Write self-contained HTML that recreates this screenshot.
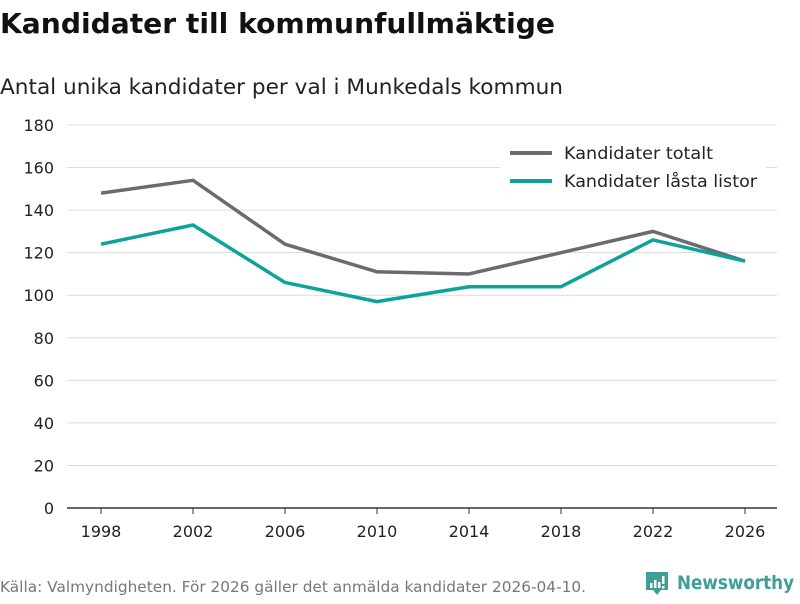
<!DOCTYPE html>
<html><head><meta charset="utf-8"><style>
body{margin:0;background:#fff;font-family:"DejaVu Sans","Liberation Sans",sans-serif;}
</style></head><body>
<svg id="c" width="800" height="600" xmlns="http://www.w3.org/2000/svg">
<text x="0" y="33" font-size="28" font-weight="bold" fill="#111" textLength="555" lengthAdjust="spacingAndGlyphs">Kandidater till kommunfullmäktige</text>
<text x="0" y="94" font-size="21.5" fill="#222" textLength="563" lengthAdjust="spacingAndGlyphs">Antal unika kandidater per val i Munkedals kommun</text>
<g id="grid"></g>
<g id="series"></g>
<g>
<rect x="500" y="138" width="266" height="58" fill="#fff"/>
<line x1="510" y1="153" x2="552" y2="153" stroke="#6b6a70" stroke-width="4"/>
<text x="564" y="159" font-size="17" fill="#222" textLength="149" lengthAdjust="spacingAndGlyphs">Kandidater totalt</text>
<line x1="510" y1="181" x2="552" y2="181" stroke="#0ea39a" stroke-width="4"/>
<text x="564" y="187" font-size="17" fill="#222" textLength="193" lengthAdjust="spacingAndGlyphs">Kandidater låsta listor</text>
</g>
<text x="0" y="592" font-size="15" fill="#777" textLength="586" lengthAdjust="spacingAndGlyphs">Källa: Valmyndigheten. För 2026 gäller det anmälda kandidater 2026-04-10.</text>
<g>
<path d="M646 572 h22 v18 h-7 l-4 5 l-4 -5 h-7 z" fill="#3f9e95"/>
<rect x="650" y="583" width="2.5" height="5" fill="#fff"/><rect x="654" y="580" width="2.5" height="8" fill="#fff"/><rect x="658" y="582" width="2.5" height="6" fill="#fff"/><rect x="662" y="576" width="2.5" height="8" fill="#fff"/><rect x="662" y="586" width="2.5" height="2.5" fill="#fff"/>
<text x="677" y="589" font-size="19" font-weight="bold" fill="#3f9e95" textLength="117" lengthAdjust="spacingAndGlyphs">Newsworthy</text>
</g>
</svg>
<script>
const years=[1998,2002,2006,2010,2014,2018,2022,2026];
const totalt=[148,154,124,111,110,120,130,116];
const lasta=[124,133,106,97,104,104,126,116];
const yTicks=[0,20,40,60,80,100,120,140,160,180];
const NS="http://www.w3.org/2000/svg";
const X=y=>101+(y-1998)/4*92;
const Y=v=>508-v*(383/180);
const grid=document.getElementById('grid'),ser=document.getElementById('series');
function mk(p,tag,a){const e=document.createElementNS(NS,tag);for(const k in a)e.setAttribute(k,a[k]);p.appendChild(e);return e;}
yTicks.forEach(t=>{
 if(t>0){const l=mk(grid,'line',{x1:67,x2:777,y1:Y(t),y2:Y(t),stroke:'#dcdcdc','stroke-width':1});
 
 }
 const tx=mk(grid,'text',{x:54,y:Y(t)+6,'text-anchor':'end','font-size':16,fill:'#222'});tx.textContent=t;
 
 
});
const ax=mk(grid,'line',{x1:67,x2:777,y1:508,y2:508,stroke:'#333','stroke-width':1.5});


years.forEach(yr=>{
 const tk=mk(grid,'line',{x1:X(yr),x2:X(yr),y1:508,y2:514,stroke:'#333'});
 
 
 const tx=mk(grid,'text',{x:X(yr),y:537,'text-anchor':'middle','font-size':16,fill:'#222'});tx.textContent=yr;
 
 
});
function line(vals,col,name){
 const p=mk(ser,'polyline',{points:vals.map((v,i)=>X(years[i])+','+Y(v)).join(' '),fill:'none',stroke:col,'stroke-width':3.5,'stroke-linejoin':'round'});
 
 
}
line(totalt,'#6b6a70','line-kandidater-totalt');
line(lasta,'#0ea39a','line-kandidater-lasta');
</script>
</body></html>
